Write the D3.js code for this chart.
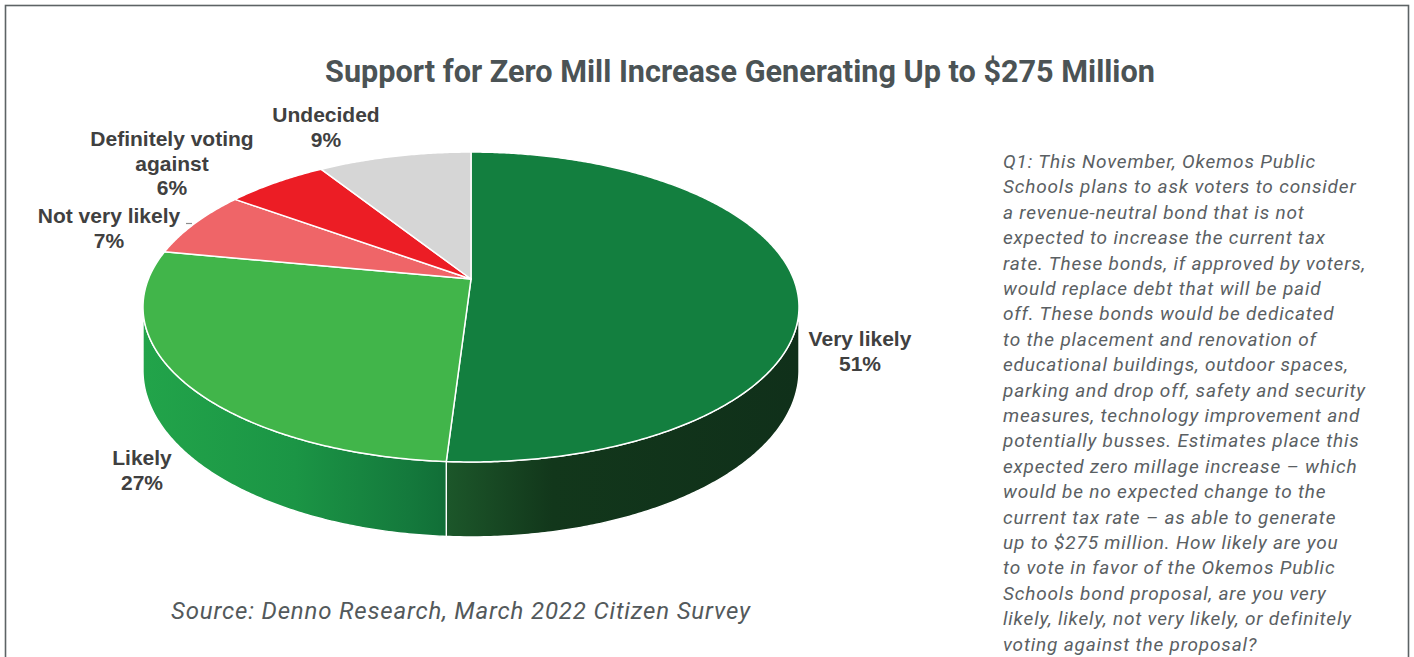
<!DOCTYPE html>
<html>
<head>
<meta charset="utf-8">
<script src="https://cdn.jsdelivr.net/npm/d3@7"></script>
<style>
  html, body { margin: 0; padding: 0; background: #ffffff; overflow: hidden; }
  svg { display: block; }
</style>
</head>
<body>
<svg id="chart" width="1414" height="657"></svg>
<script>
// ---- data ----
const categories = ["Very likely", "Likely", "Not very likely", "Definitely voting against", "Undecided"];
const shares = [51, 27, 7, 6, 9];
const labelLines = [
  ["Very likely", "51%"],
  ["Likely", "27%"],
  ["Not very likely", "7%"],
  ["Definitely voting", "against", "6%"],
  ["Undecided", "9%"]
];
const titleText = "Support for Zero Mill Increase Generating Up to $275 Million";
const sourceText = "Source: Denno Research, March 2022 Citizen Survey";
const questionLines = [
  "Q1: This November, Okemos Public",
  "Schools plans to ask voters to consider",
  "a revenue-neutral bond that is not",
  "expected to increase the current tax",
  "rate. These bonds, if approved by voters,",
  "would replace debt that will be paid",
  "off. These bonds would be dedicated",
  "to the placement and renovation of",
  "educational buildings, outdoor spaces,",
  "parking and drop off, safety and security",
  "measures, technology improvement and",
  "potentially busses. Estimates place this",
  "expected zero millage increase \u2013 which",
  "would be no expected change to the",
  "current tax rate \u2013 as able to generate",
  "up to $275 million. How likely are you",
  "to vote in favor of the Okemos Public",
  "Schools bond proposal, are you very",
  "likely, likely, not very likely, or definitely",
  "voting against the proposal?"
];

// ---- styles ----
const topColors = ["#137f3f", "#41b54a", "#ef6568", "#ec1d25", "#d6d6d6"];
const sideGradients = [
  [[0, "#1c572a"], [0.3, "#12371b"], [1, "#10301a"]],
  [[0, "#22a44a"], [0.5, "#1b9545"], [0.88, "#14793c"], [1, "#116e37"]],
  [[0, "#d85a5d"], [1, "#b84a4d"]],
  [[0, "#d0181f"], [1, "#b0141a"]],
  [[0, "#c2c2c2"], [1, "#a8a8a8"]]
];
// label anchor: centre x and first baseline y, per slice
const labelAnchors = [
  [860, 346], [142, 465], [109, 223], [172, 146], [326, 122]
];

const svg = d3.select("#chart");

// frame
svg.append("rect")
  .attr("x", 5.5).attr("y", 5.5)
  .attr("width", 1403).attr("height", 720)
  .attr("fill", "none")
  .attr("stroke", "#5d6365")
  .attr("stroke-width", 1.6);

// fit a text element to a given width by letter spacing
function fitSpacing(sel, target) {
  const txt = sel.text();
  const w = sel.node().getComputedTextLength();
  sel.attr("letter-spacing", (target - w) / Math.max(1, txt.length - 1));
}

// title, fitted to its line width
const title = svg.append("text")
  .attr("x", 740).attr("y", 82)
  .attr("text-anchor", "middle")
  .attr("font-family", "Roboto, 'Open Sans', sans-serif")
  .attr("font-weight", 700)
  .attr("font-size", 28)
  .attr("fill", "#4b5355")
  .text(titleText);
{
  const w = title.node().getComputedTextLength();
  title.attr("font-size", 28 * 830 / w);
}

// ---- perspective pie ----
const cx = 471, cy = 279;        // projected pie centre
const A = 322.6, B = 149.9;      // horizontal / depth scale
const k = 0.1807;                // perspective strength
const T = 61.4;                  // thickness

function project(theta, h) {
  const X = Math.sin(theta), Z = -Math.cos(theta);
  const d = 1 - k * Z;
  return [cx + A * X / d, cy + (B * Z + T * h) / d];
}

const pie = d3.pie().sort(null).value(d => d)
  .startAngle(0).endAngle(2 * Math.PI);
const arcs = pie(shares);

const step = Math.PI / 360;
function rimPoints(a0, a1, h) {
  const pts = [];
  const n = Math.max(2, Math.ceil(Math.abs(a1 - a0) / step));
  for (let i = 0; i <= n; i++) pts.push(project(a0 + (a1 - a0) * i / n, h));
  return pts;
}

const line = d3.line();
const defs = svg.append("defs");

// visible side range (silhouette points)
const visA = Math.acos(-k), visB = 2 * Math.PI - Math.acos(-k);

const sides = svg.append("g");
arcs.forEach((a, i) => {
  const s = Math.max(a.startAngle, visA), e = Math.min(a.endAngle, visB);
  if (e <= s) return;
  const top = rimPoints(s, e, 0);
  const bottom = rimPoints(e, s, 1);
  const xs = top.map(p => p[0]);
  const gid = "side-" + i;
  const g = defs.append("linearGradient")
    .attr("id", gid)
    .attr("gradientUnits", "userSpaceOnUse")
    .attr("x1", d3.min(xs)).attr("x2", d3.max(xs))
    .attr("y1", 0).attr("y2", 0);
  g.selectAll("stop").data(sideGradients[i]).join("stop")
    .attr("offset", d => d[0])
    .attr("stop-color", d => d[1]);
  sides.append("path")
    .attr("d", line(top.concat(bottom)) + "Z")
    .attr("fill", `url(#${gid})`)
    .attr("stroke", "#ffffff")
    .attr("stroke-width", 1.4)
    .attr("stroke-linejoin", "round");
});

const tops = svg.append("g");
tops.selectAll("path").data(arcs).join("path")
  .attr("d", a => line([[cx, cy]].concat(rimPoints(a.startAngle, a.endAngle, 0))) + "Z")
  .attr("fill", (a, i) => topColors[i])
  .attr("stroke", "#ffffff")
  .attr("stroke-width", 1.5)
  .attr("stroke-linejoin", "round");

// ---- data labels ----
const labels = svg.append("g")
  .attr("font-family", "'Liberation Sans', Arial, sans-serif")
  .attr("font-weight", 700)
  .attr("font-size", 21)
  .attr("fill", "#404040")
  .attr("text-anchor", "middle");
labelLines.forEach((lines, i) => {
  const t = labels.append("text")
    .attr("x", labelAnchors[i][0]).attr("y", labelAnchors[i][1]);
  lines.forEach((ln, j) => {
    t.append("tspan")
      .attr("x", labelAnchors[i][0])
      .attr("dy", j === 0 ? 0 : 24.5)
      .text(ln);
  });
});
// short leader for the narrow slice
svg.append("path")
  .attr("d", "M186,223.5H192")
  .attr("stroke", "#8c8c8c")
  .attr("stroke-width", 1.2)
  .attr("fill", "none");

// ---- source ----
const src = svg.append("text")
  .attr("x", 171).attr("y", 619)
  .attr("font-family", "Roboto, 'Open Sans', sans-serif")
  .attr("font-style", "italic")
  .attr("font-size", 24)
  .attr("fill", "#53595b")
  .text(sourceText);
fitSpacing(src, 579);

// ---- question text ----
const q = svg.append("g")
  .attr("font-family", "Roboto, 'Open Sans', sans-serif")
  .attr("font-style", "italic")
  .attr("font-size", 19)
  .attr("letter-spacing", 0.82)
  .attr("fill", "#5a6063");
questionLines.forEach((ln, j) => {
  q.append("text")
    .attr("x", 1003)
    .attr("y", 168 + j * 25.4)
    .text(ln);
});
</script>
</body>
</html>
